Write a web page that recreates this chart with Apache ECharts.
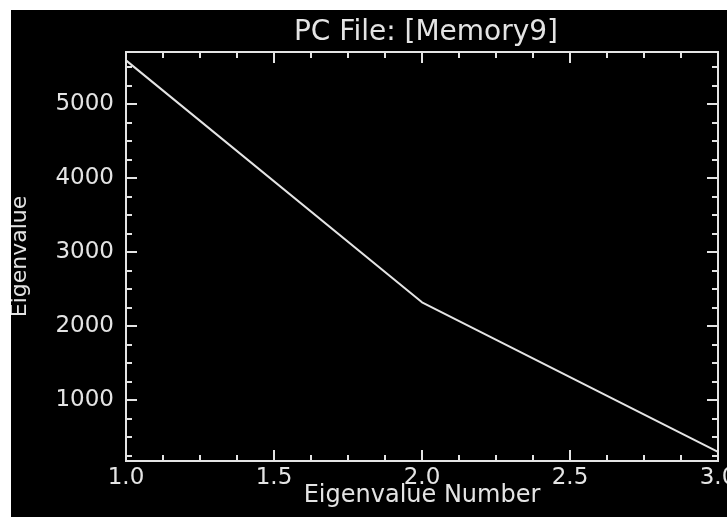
<!DOCTYPE html>
<html>
<head>
<meta charset="utf-8">
<script src="https://cdn.jsdelivr.net/npm/echarts@6/dist/echarts.min.js"></script>
<style>
html,body{margin:0;padding:0;background:#fff;width:727px;height:517px;overflow:hidden;}
#c{position:absolute;left:11px;top:10px;width:716px;height:507px;}
</style>
</head>
<body>
<div id="c"></div>
<script>
const titleText = 'PC File: [Memory9]';
const xName = 'Eigenvalue Number';
const yName = 'Eigenvalue';
const xValues = [1, 2, 3];
const yValues = [5590, 2320, 300];
const yMajorTicks = [1000, 2000, 3000, 4000, 5000];
const yMinorTicks = [250, 500, 750, 1250, 1500, 1750, 2250, 2500, 2750, 3250, 3500, 3750, 4250, 4500, 4750, 5250, 5500];
const yMin = 176, yMax = 5703;
const xMin = 1, xMax = 3, xInterval = 0.5;

const fg = '#e4e4e4';
const font = 'DejaVu Sans';
const chart = echarts.init(document.getElementById('c'));

function yAxisDef(pos, ticks, len, labels) {
  return {
    type: 'value', position: pos, min: yMin, max: yMax,
    name: labels ? yName : '', nameLocation: 'middle', nameGap: 95, nameRotate: 90,
    nameTextStyle: { color: fg, fontFamily: font, fontSize: 22 },
    axisLine: { show: true, lineStyle: { color: fg, width: 2 } },
    axisTick: { show: true, inside: true, length: len, customValues: ticks, lineStyle: { color: fg, width: 2 } },
    axisLabel: { show: labels, customValues: ticks, color: fg, fontFamily: font, fontSize: 23, margin: 12,
      formatter: v => String(v) },
    splitLine: { show: false }
  };
}
function xAxisDef(pos, labels) {
  return {
    type: 'value', position: pos, min: xMin, max: xMax, interval: xInterval,
    name: labels ? xName : '', nameLocation: 'middle', nameGap: 23, nameMoveOverlap: false,
    nameTextStyle: { color: fg, fontFamily: font, fontSize: 24 },
    axisLine: { show: true, lineStyle: { color: fg, width: 2 } },
    axisTick: { show: true, inside: true, length: 11, lineStyle: { color: fg, width: 2 } },
    minorTick: { show: true, splitNumber: 4, length: 6, lineStyle: { color: fg, width: 2 } },
    axisLabel: { show: labels, color: fg, fontFamily: font, fontSize: 23, margin: 6,
      formatter: v => v.toFixed(1) },
    splitLine: { show: false }, minorSplitLine: { show: false }
  };
}

chart.setOption({
  backgroundColor: '#000',
  animation: false,
  title: {
    text: titleText, left: 410, top: 4, textAlign: 'center',
    textStyle: { color: fg, fontFamily: font, fontSize: 28, fontWeight: 'normal' }
  },
  grid: { left: 115, right: 9, top: 42, bottom: 56, containLabel: false, outerBoundsMode: 'none' },
  xAxis: [xAxisDef('bottom', true), xAxisDef('top', false)],
  yAxis: [
    yAxisDef('left', yMajorTicks, 11, true),
    yAxisDef('left', yMinorTicks, 6, false),
    yAxisDef('right', yMajorTicks, 11, false),
    yAxisDef('right', yMinorTicks, 6, false)
  ],
  series: [{
    type: 'line', xAxisIndex: 0, yAxisIndex: 0,
    data: xValues.map((x, i) => [x, yValues[i]]),
    symbol: 'none', lineStyle: { color: fg, width: 2 }
  }]
});
</script>
</body>
</html>
